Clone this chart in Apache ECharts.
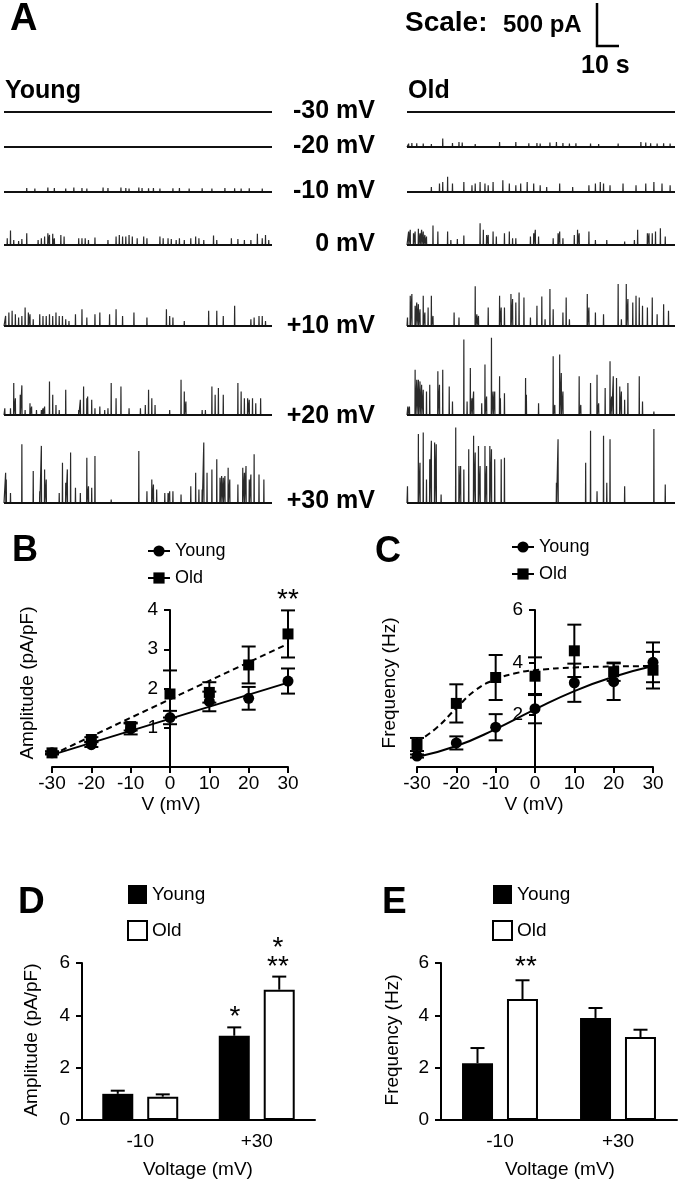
<!DOCTYPE html>
<html><head><meta charset="utf-8">
<script src="https://cdn.jsdelivr.net/npm/echarts@6/dist/echarts.min.js"></script>
<style>html,body{margin:0;padding:0;background:#fff;}#wrap{position:relative;width:680px;height:1182px;}
.p{position:absolute;}</style></head><body>
<div id="wrap">
<div id="pA" class="p" style="left:0;top:0;width:680px;height:520px"></div>
<div id="pB" class="p" style="left:0;top:520px;width:340px;height:300px"></div>
<div id="pC" class="p" style="left:340px;top:520px;width:340px;height:300px"></div>
<div id="pD" class="p" style="left:0;top:820px;width:340px;height:362px"></div>
<div id="pE" class="p" style="left:340px;top:820px;width:340px;height:362px"></div>
</div>
<script>
// ---------- DATA ----------
// Panel A: spike events per trace, [time (s), amplitude (pA)]
const voltLabels = ['-30 mV','-20 mV','-10 mV','0 mV','+10 mV','+20 mV','+30 mV'];
const tYoungM30 = [[12,10],[40,12],[70,10],[95,12],[120,10],[150,10]];
const tYoungM20 = [[8,20],[20,22],[30,25],[45,20],[60,18],[75,22],[90,20],[105,18],[115,20],[130,22],[145,18],[155,20]];
const tYoungM10 = [[14,50],[19,42],[27,55],[31,50],[38,42],[43,55],[48,50],[51,42],[61,55],[64,50],[72,55],[75,50],[77,42],[83,55],[85,50],[89,46],[92,50],[96,42],[104,46],[108,50],[114,42],[122,46],[128,42],[136,50],[142,46],[146,42],[151,46],[159,42]];
const tYoung0 = [[2,85],[4,180],[6,63],[9,50],[11,75],[14,147],[21,63],[23,84],[25,105],[27,147],[28,126],[30,139],[31,84],[35,126],[37,105],[46,84],[48,84],[50,84],[52,63],[56,92],[64,63],[69,105],[71,126],[73,105],[75,105],[77,126],[79,105],[82,84],[86,105],[88,84],[96,105],[98,84],[101,84],[103,75],[106,63],[108,84],[111,63],[115,84],[118,105],[120,84],[123,63],[129,118],[131,63],[140,84],[144,75],[148,63],[152,63],[156,139],[159,84],[161,126],[163,63]];
const tYoungP10 = [[1,126],[3,168],[5,189],[7,147],[9,105],[11,126],[13,231],[15,168],[16,147],[18,84],[22,147],[24,126],[26,126],[28,147],[30,126],[32,168],[34,126],[36,126],[38,84],[40,63],[44,147],[48,210],[51,105],[56,147],[59,168],[65,147],[69,210],[73,126],[80,168],[88,105],[100,210],[102,126],[104,105],[111,63],[126,189],[131,189],[135,126],[142,252],[152,84],[154,105],[157,126],[159,126],[161,63]];
const tYoungP20 = [[0.5,84],[4,84],[6,399],[7,210],[10,252],[11,370],[13,63],[16,147],[17,105],[20,63],[23,63],[24,84],[25,105],[28,420],[30,252],[32,126],[34,63],[38,315],[46,63],[47,189],[49,357],[51,210],[51.5,231],[54,189],[56,84],[59,105],[62,63],[64,84],[66,399],[69,210],[72,357],[77,84],[84,84],[87,126],[89,315],[91,210],[93,126],[102,63],[109,441],[111,294],[112,168],[122,63],[124,63],[128,357],[130,252],[132,336],[135,252],[144,399],[146,294],[148,210],[150,210],[151,189],[153,210],[155,147],[158,210],[160,21]];
const tYoungP30 = [[1,378],[1.4,294],[4,126],[11,735],[18,399],[22,147],[23,714],[25,420],[26,294],[34,126],[36,504],[38,252],[39,420],[41,630],[44,189],[47,126],[51,567],[52,210],[54,189],[56,588],[66,42],[83,651],[88,147],[91,294],[92,231],[94,168],[99,126],[101,126],[102,147],[104,147],[109,105],[115,210],[118,378],[120,168],[122,168],[123,756],[125,378],[128,420],[131,546],[133,315],[134,336],[135,315],[136,336],[138,441],[139,294],[144,231],[147,441],[148,378],[149,462],[151,294],[152,357],[154,609],[157,357],[160,294]];
const tOldM30 = [[10,12],[35,10],[60,12],[90,10],[120,12],[150,10]];
const tOldM20 = [[1,42],[3,50],[6,46],[10,42],[15,38],[22,105],[28,50],[32,63],[34,55],[42,38],[57,63],[67,63],[75,46],[80,50],[82,42],[88,55],[92,63],[96,50],[100,42],[104,46],[113,42],[118,38],[130,42],[144,63],[147,55],[150,46],[154,42],[158,46],[162,42]];
const tOldM10 = [[15,63],[20,105],[22,126],[25,189],[28,105],[35,126],[40,84],[42,105],[45,126],[48,105],[50,84],[53,126],[59,147],[63,105],[67,84],[70,105],[74,126],[78,105],[82,84],[86,63],[94,105],[102,63],[112,84],[116,105],[119,126],[121,105],[125,84],[133,105],[141,84],[147,105],[152,126],[157,105],[162,84]];
const tOld0 = [[1,168],[2,189],[4,147],[5,168],[7,202],[8,147],[9,189],[10,168],[11,126],[12,105],[16,244],[19,168],[25,168],[27,63],[31,76],[35,118],[45,273],[47,189],[49,126],[50,126],[53,168],[55,105],[60,147],[63,168],[65,84],[67,84],[76,105],[78,147],[79,189],[81,105],[90,84],[93,147],[94,168],[96,84],[103,126],[105,189],[106,147],[112,168],[116,63],[123,63],[134,42],[140,63],[142,189],[148,147],[149,147],[151,147],[153,168],[156,210],[159,105]];
const tOldP10 = [[0.3,105],[2,378],[3,399],[5,252],[6,294],[7,273],[8,210],[10,378],[11,168],[13,231],[15,378],[16,126],[29,168],[32,105],[42,496],[43,147],[44,126],[50,231],[57,378],[58,231],[60,231],[64,399],[65,336],[67,294],[69,420],[72,357],[76,105],[80,252],[83,370],[85,84],[88,462],[90,210],[96,168],[98,357],[100,84],[111,399],[112,231],[116,168],[121,147],[130,525],[132,84],[135,525],[136,336],[139,294],[141,378],[143,357],[145,252],[148,231],[151,357],[154,147],[158,273],[161,189]];
const tOldP20 = [[0.5,105],[1.5,105],[5,567],[6,441],[7,441],[8,420],[9,378],[10,315],[12,294],[14,378],[19,546],[20,378],[22,567],[26,357],[28,168],[35,945],[37,168],[39,588],[40,210],[41,294],[46,147],[48,630],[49,231],[52,966],[53,294],[54,294],[57,483],[57.5,210],[60,273],[73,462],[73.5,252],[81,147],[90,735],[91,126],[94,756],[95,525],[96,294],[106,483],[107,126],[113,399],[117,504],[118,147],[122,336],[125,672],[126,231],[127,483],[129,462],[131,357],[132,294],[134,189],[136,399],[143,483],[145,168],[152,42]];
const tOldP30 = [[0.3,210],[7,861],[8,504],[10,882],[12,294],[14,546],[15,777],[17,756],[18,735],[21,105],[30,945],[32,462],[33,462],[35,420],[38,672],[41,840],[42,630],[44,714],[45,462],[48,714],[49,462],[51,714],[52,672],[54,546],[58,546],[60,567],[65,21],[92,252],[93,798],[110,504],[113,903],[117,147],[121,840],[123,252],[125,798],[134,210],[152,924],[159,231]];

// Panel B: amplitude vs voltage
const vSteps = [-30,-20,-10,0,10,20,30];
const ampYoung = [0.36,0.57,0.97,1.26,1.67,1.75,2.19];
const ampYoungErr = [0.03,0.06,0.14,0.17,0.25,0.29,0.32];
const ampOld = [0.36,0.70,1.03,1.86,1.90,2.60,3.39];
const ampOldErr = [0.04,0.06,0.10,0.60,0.26,0.47,0.60];
const ampFitYoung = [[-30,0.31],[30,2.15]];
const ampFitOld = [[-30,0.31],[30,3.14]];

// Panel C: frequency vs voltage
const freqYoung = [0.42,0.92,1.52,2.23,3.22,3.26,4.00];
const freqYoungErr = [0.06,0.25,0.50,0.56,0.73,0.70,0.76];
const freqOld = [0.86,2.43,3.42,3.47,4.44,3.64,3.70];
const freqOldErr = [0.25,0.73,0.86,0.72,1.00,0.35,0.70];
const freqFitYoung = [[-30,0.38],[-20,0.80],[-10,1.45],[0,2.20],[10,2.90],[20,3.45],[30,3.86]];
const freqFitOld = [[-30,0.95],[-25,1.50],[-20,2.25],[-15,2.95],[-10,3.35],[-5,3.58],[0,3.70],[10,3.80],[20,3.84],[30,3.86]];

// Panels D/E: bars
const barCats = ['-10','+30'];
const ampBarYoung = [1.00,3.22], ampBarYoungErr = [0.12,0.32];
const ampBarOld = [0.89,4.98], ampBarOldErr = [0.09,0.50];
const freqBarYoung = [2.17,3.90], freqBarYoungErr = [0.58,0.38];
const freqBarOld = [4.62,3.17], freqBarOldErr = [0.72,0.28];

// ---------- HELPERS ----------
const FF = '"Liberation Sans", Arial, sans-serif';
const INK = '#000';
function traceLine(spikes){
  const s = spikes.slice().sort((a,b)=>a[0]-b[0]);
  const pts = [[0,0]];
  s.forEach(([t,a])=>{ pts.push([t-0.12,0],[t,a],[t+0.12,0]); });
  pts.push([165,0]);
  return pts;
}
function txt(x,y,text,size,opts){
  opts = opts||{};
  return {type:'text', x:x, y:y, rotation: opts.rot||0, z:10,
    style:{text:text, fontSize:size, fontFamily:FF, fontWeight: opts.bold?'bold':'normal',
      textAlign: opts.align||'left', textVerticalAlign:'middle', fill:INK}};
}
function xyErr(xs, ys, errs){
  return {type:'custom', silent:true, z:2,
    data: xs.map((x,i)=>[x, ys[i], errs[i]]),
    renderItem:(p,api)=>{
      const up = api.coord([api.value(0), api.value(1)+api.value(2)]);
      const dn = api.coord([api.value(0), api.value(1)-api.value(2)]);
      const x = up[0], w = 7, st = {stroke:'#000', lineWidth:2};
      return {type:'group', children:[
        {type:'line', shape:{x1:x,y1:up[1],x2:x,y2:dn[1]}, style:st},
        {type:'line', shape:{x1:x-w,y1:up[1],x2:x+w,y2:up[1]}, style:st},
        {type:'line', shape:{x1:x-w,y1:dn[1],x2:x+w,y2:dn[1]}, style:st}]};
    }};
}
function barErr(vals, errs, dx){
  return {type:'custom', silent:true, z:1,
    data: vals.map((v,i)=>[i, v, errs[i]]),
    renderItem:(p,api)=>{
      const c = api.coord([api.value(0), api.value(1)]);
      const t = api.coord([api.value(0), api.value(1)+api.value(2)]);
      const x = c[0]+dx, w = 7, st = {stroke:'#000', lineWidth:2};
      return {type:'group', children:[
        {type:'line', shape:{x1:x,y1:c[1],x2:x,y2:t[1]}, style:st},
        {type:'line', shape:{x1:x-w,y1:t[1],x2:x+w,y2:t[1]}, style:st}]};
    }};
}
const axLine = {lineStyle:{color:'#000', width:2}};
const axTick = {lineStyle:{color:'#000', width:2}, length:6};
const lblStyle = (m)=>({color:INK, fontSize:19, fontFamily:FF, margin:m});

// ---------- PANEL A ----------
(function(){
  const young = [tYoungM30,tYoungM20,tYoungM10,tYoung0,tYoungP10,tYoungP20,tYoungP30];
  const old = [tOldM30,tOldM20,tOldM10,tOld0,tOldP10,tOldP20,tOldP30];
  const baseY = [112,147,192,245,326,415,503];
  const labelY = [111,146,191,244,326,416,501];
  const grids=[], xs=[], ys=[], series=[];
  [[young,4],[old,407]].forEach(([set,left])=>{
    set.forEach((sp,i)=>{
      const gi = grids.length;
      grids.push({left:left, width:268, top:baseY[i]-80, height:80});
      xs.push({type:'value', min:0, max:165, show:false, gridIndex:gi});
      ys.push({type:'value', min:0, max:1000, show:false, gridIndex:gi});
      series.push({type:'line', xAxisIndex:gi, yAxisIndex:gi, data:traceLine(sp), showSymbol:false, clip:false,
        lineStyle:{color:'#2a2a2a', width:1.2}, silent:true, animation:false});
      series.push({type:'line', xAxisIndex:gi, yAxisIndex:gi, data:[[0,0],[165,0]], showSymbol:false, clip:false,
        lineStyle:{color:'#111', width:2}, silent:true, animation:false});
    });
  });
  const g = [txt(10,20,'A',38,{bold:true}), txt(405,23,'Scale:',28,{bold:true}), txt(503,25,'500 pA',24,{bold:true}),
    txt(581,66,'10 s',25,{bold:true}), txt(5,91,'Young',25,{bold:true}), txt(408,91,'Old',25,{bold:true}),
    {type:'polyline', shape:{points:[[597,3],[597,46],[619,46]]}, style:{stroke:'#000', lineWidth:2.5, fill:null}}];
  voltLabels.forEach((l,i)=>g.push(txt(375,labelY[i],l,25,{bold:true, align:'right'})));
  echarts.init(document.getElementById('pA')).setOption({animation:false, grid:grids, xAxis:xs, yAxis:ys, series:series, graphic:g});
})();

// ---------- PANEL B / C ----------
function ivPanel(el, gridLeft, yMax, yInt, yv, ye, ov, oe, fitY, fitO, smooth, g, legLeft, legTop){
  echarts.init(document.getElementById(el)).setOption({
    animation:false,
    grid:{left:gridLeft, top:90, width:236, height:157},
    legend:{orient:'vertical', left:legLeft, top:legTop, padding:0, itemWidth:22, itemHeight:14, itemGap:9,
      data:['Young','Old'], textStyle:{fontSize:18, fontFamily:FF, color:INK}, lineStyle:{type:'solid', width:2}, selectedMode:false},
    xAxis:{type:'value', min:-30, max:30, interval:10, splitLine:{show:false}, axisLine:axLine, axisTick:axTick, axisLabel:lblStyle(7)},
    yAxis:{type:'value', min:0, max:yMax, interval:yInt, offset:-118, splitLine:{show:false},
      axisLine:Object.assign({onZero:false},axLine), axisTick:axTick,
      axisLabel:Object.assign(lblStyle(12),{formatter:v=>v===0?'':String(v)})},
    series:[
      xyErr(vSteps, yv, ye), xyErr(vSteps, ov, oe),
      {type:'line', name:'Young', data:fitY, smooth:smooth, symbol:'circle', showSymbol:false, lineStyle:{color:'#000', width:2}, itemStyle:{color:'#000'}, z:3},
      {type:'line', name:'Old', data:fitO, smooth:smooth, symbol:'rect', showSymbol:false, lineStyle:{color:'#000', width:2, type:[6,4]}, itemStyle:{color:'#000'}, z:3},
      {type:'scatter', data:vSteps.map((v,i)=>[v,yv[i]]), symbol:'circle', symbolSize:11, itemStyle:{color:'#000', opacity:1}, z:4},
      {type:'scatter', data:vSteps.map((v,i)=>[v,ov[i]]), symbol:'rect', symbolSize:11, itemStyle:{color:'#000', opacity:1}, z:4}
    ],
    graphic:g
  });
}
ivPanel('pB', 52, 4, 1, ampYoung, ampYoungErr, ampOld, ampOldErr, ampFitYoung, ampFitOld, false,
  [txt(12,31,'B',36,{bold:true}), txt(28,163,'Amplitude (pA/pF)',19,{align:'center', rot:Math.PI/2}),
   txt(171,285,'V (mV)',19,{align:'center'}), txt(288,80,'**',28,{align:'center'})], 147, 22);
ivPanel('pC', 77, 6, 2, freqYoung, freqYoungErr, freqOld, freqOldErr, freqFitYoung, freqFitOld, true,
  [txt(35,32,'C',36,{bold:true}), txt(50,163,'Frequency (Hz)',19,{align:'center', rot:Math.PI/2}),
   txt(194,285,'V (mV)',19,{align:'center'})], 171, 18);

// ---------- PANEL D / E ----------
function barPanel(el, gridLeft, gridW, yv, ye, ov, oe, g, legLeft){
  echarts.init(document.getElementById(el)).setOption({
    animation:false,
    grid:{left:gridLeft, top:143, width:gridW, height:157},
    legend:{orient:'vertical', left:legLeft, top:65, padding:0, itemWidth:19, itemHeight:19, itemGap:16, icon:'rect',
      data:['Young','Old'], textStyle:{fontSize:19, fontFamily:FF, color:INK}, selectedMode:false},
    xAxis:{type:'category', data:barCats, axisLine:axLine, axisTick:Object.assign({alignWithLabel:true},axTick),
      axisLabel:{color:INK, fontSize:19, fontFamily:FF, margin:12}},
    yAxis:{type:'value', min:0, max:6, interval:2, splitLine:{show:false}, axisLine:Object.assign({show:true},axLine), axisTick:Object.assign({show:true},axTick),
      axisLabel:{color:INK, fontSize:19, fontFamily:FF, margin:12}},
    series:[
      barErr(yv, ye, -22.5), barErr(ov, oe, 22.5),
      {type:'bar', name:'Young', data:yv, barWidth:31, barGap:'45%', itemStyle:{color:'#000'}, z:2},
      {type:'bar', name:'Old', data:ov, barWidth:31, barGap:'45%', itemStyle:{color:'#fff', borderColor:'#000', borderWidth:2}, z:2}
    ],
    graphic:g
  });
}
barPanel('pD', 82, 233, ampBarYoung, ampBarYoungErr, ampBarOld, ampBarOldErr,
  [txt(18,83,'D',37,{bold:true}), txt(32,220,'Amplitude (pA/pF)',19,{align:'center', rot:Math.PI/2}),
   txt(198,350,'Voltage (mV)',19,{align:'center'}), txt(235,197,'*',28,{align:'center'}),
   txt(278,128,'*',28,{align:'center'}), txt(278,147,'**',28,{align:'center'})], 127);
barPanel('pE', 101, 236, freqBarYoung, freqBarYoungErr, freqBarOld, freqBarOldErr,
  [txt(42,83,'E',37,{bold:true}), txt(53,220,'Frequency (Hz)',19,{align:'center', rot:Math.PI/2}),
   txt(220,350,'Voltage (mV)',19,{align:'center'}), txt(186,147,'**',28,{align:'center'})], 152);
</script>
</body></html>
